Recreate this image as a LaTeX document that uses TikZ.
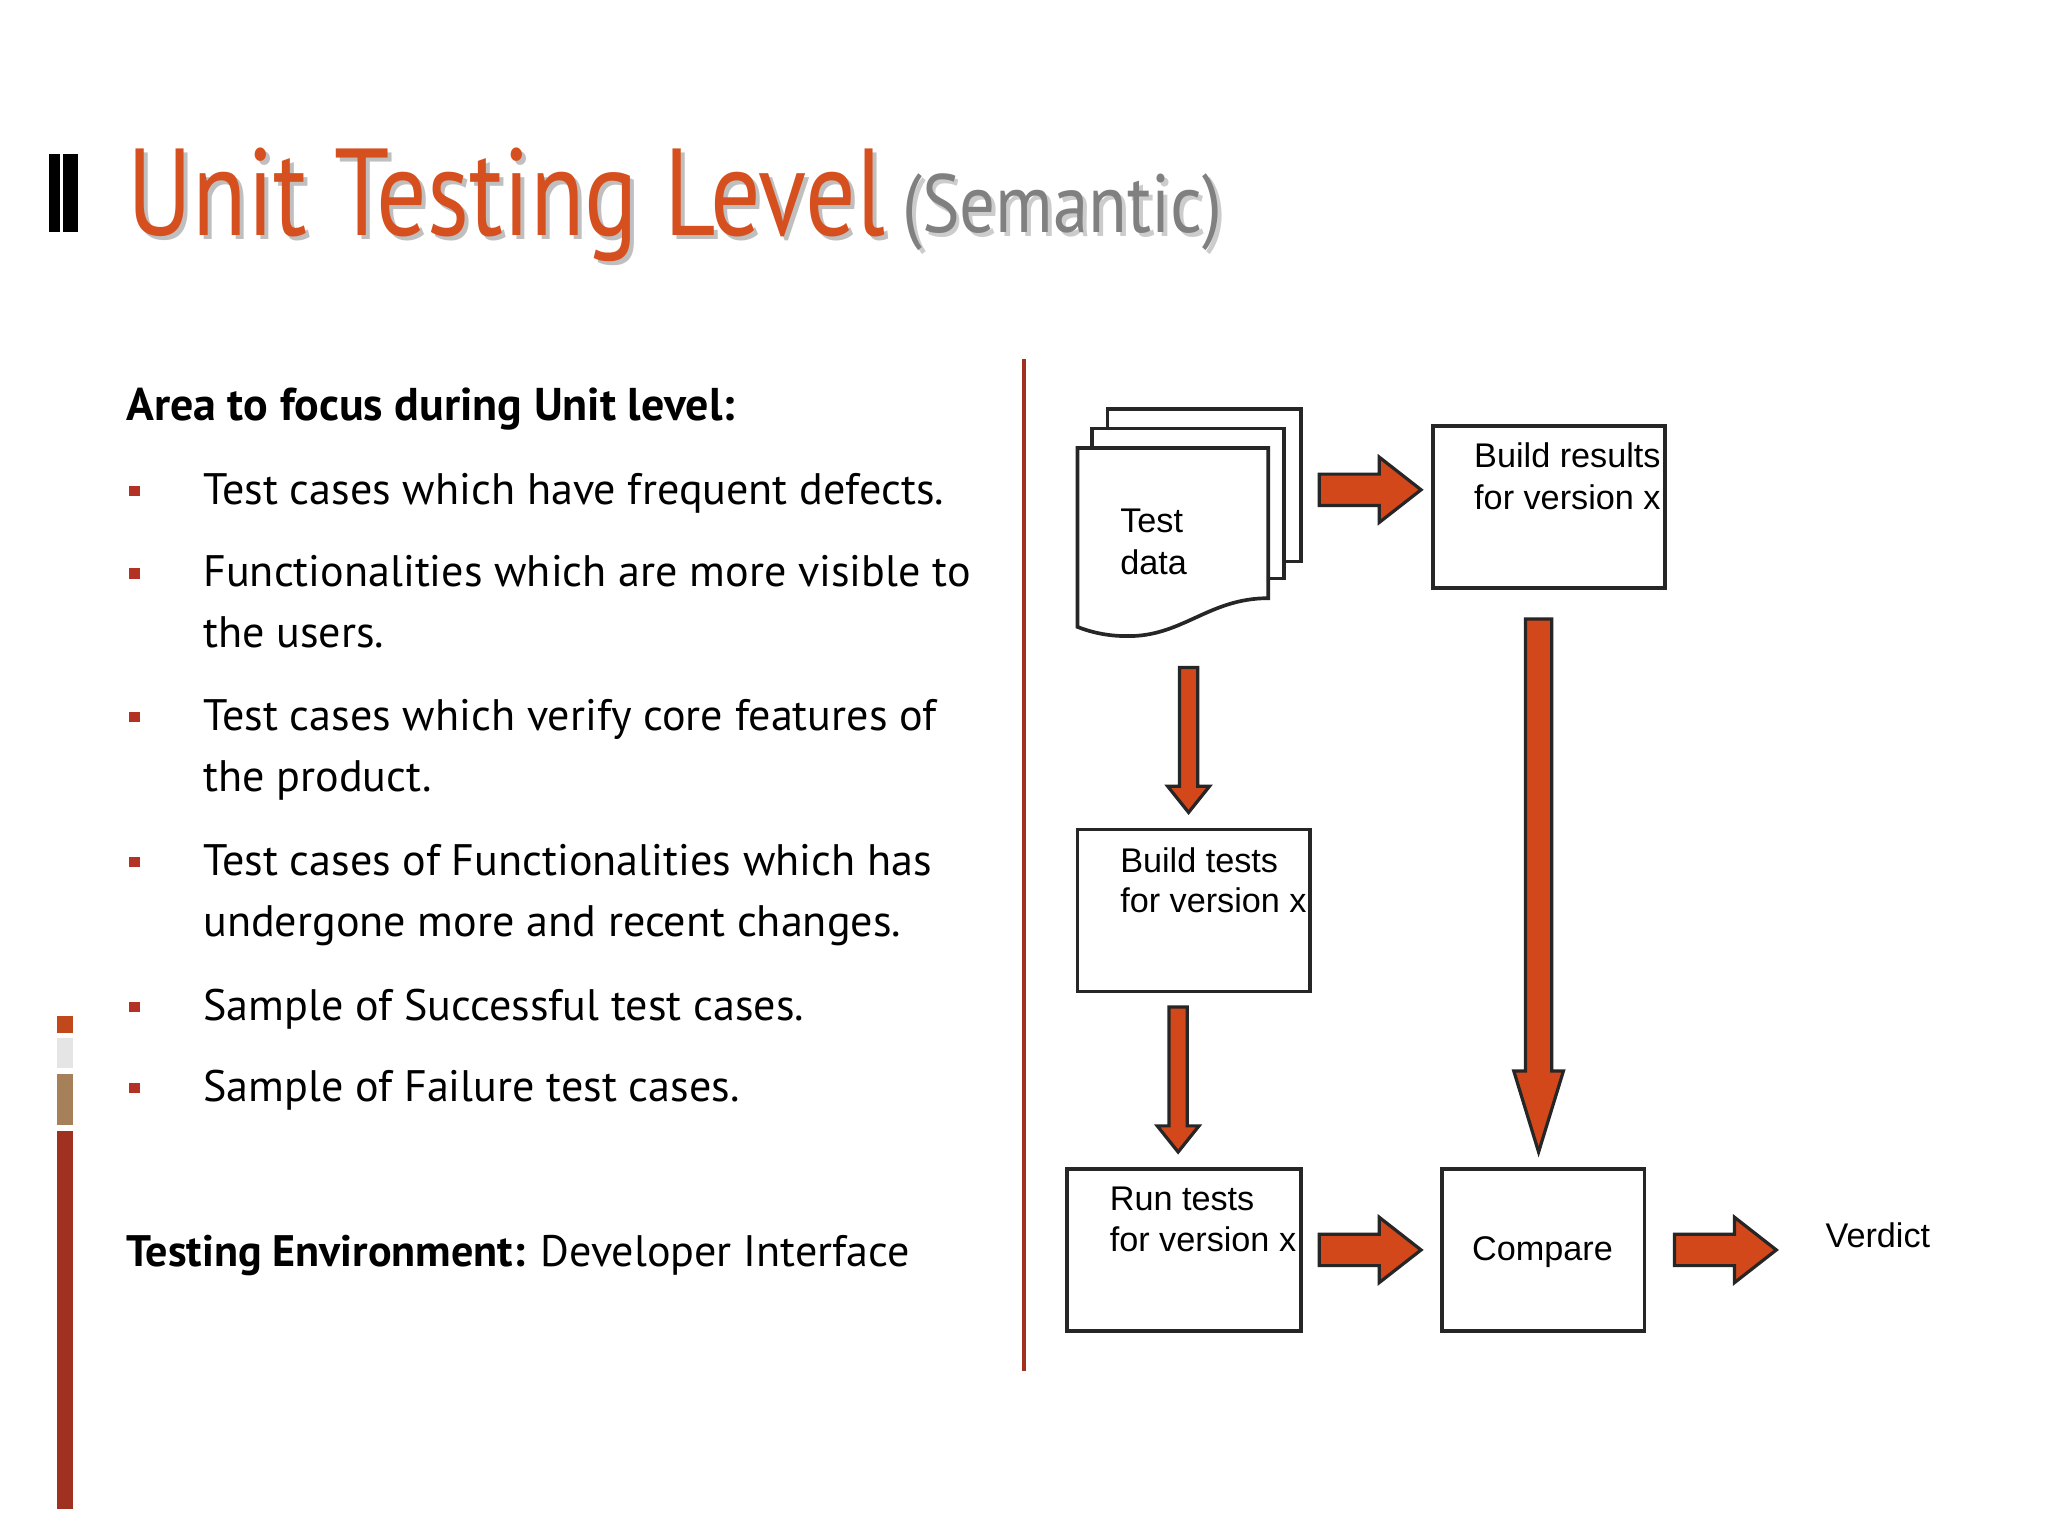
\documentclass[tikz,border=0pt]{standalone}
\usepackage{fontspec}
\setmainfont{PT Sans}
\newfontfamily\arialf{Liberation Sans}
\usepackage{graphicx}
\definecolor{tred}{RGB}{213,80,30}
\definecolor{arr}{RGB}{210,72,26}
\definecolor{dred}{RGB}{160,48,32}
\definecolor{bul}{RGB}{180,50,35}
\begin{document}
\begin{tikzpicture}[x=0.01cm,y=-0.01cm,
  box/.style={draw=black!85,line width=0.8pt,fill=white},
  fatarrow/.style={draw=black!85,line width=0.7pt,fill=arr},
  body/.style={anchor=base west,inner sep=0pt,font=\fontsize{9.6}{11}\selectfont},
  dtext/.style={anchor=base west,inner sep=0pt,font=\arialf\fontsize{7.45}{8.6}\selectfont},
  bsq/.style={fill=bul}]
\useasboundingbox (0,0) rectangle (1568,1176);
% top-left bars
\foreach \x in {38.5,40.5,42.5,45} \draw[line width=0.6pt] (\x,118) -- (\x,178);
\fill (48,118) rectangle (60,178);
% title
\node[anchor=base west,inner sep=0pt,text=black!25] (tsh) at (100,183) {\resizebox{5.8cm}{0.67cm}{Unit Testing Level}};
\node[anchor=base west,inner sep=0pt,text=tred] (title) at (97,180) {\resizebox{5.8cm}{0.67cm}{Unit Testing Level}};
\node[anchor=base west,inner sep=0pt,text=black!20] (ssh) at (693,181) {\resizebox{2.45cm}{0.45cm}{(Semantic)}};
\node[anchor=base west,inner sep=0pt,text=black!50] (sem) at (690,178) {\resizebox{2.45cm}{0.45cm}{(Semantic)}};
% left decoration
\fill[tred!90!black] (44,778) rectangle (56,791);
\fill[black!10] (44,795) rectangle (56,818);
\fill[brown!60!gray] (44,822) rectangle (56,861);
\fill[dred] (44,866) rectangle (56,1155);
% divider
\draw[dred,line width=0.8pt] (784,275) -- (784,1050);
% text
\node[body,font=\bfseries\fontsize{10}{11}\selectfont] (head) at (96,322) {Area to focus during Unit level:};
\foreach \y/\t [count=\i] in {386/{Test cases which have frequent defects.},449/{Functionalities which are more visible to},496/{the users.},559/{Test cases which verify core features of},606/{the product.},670/{Test cases of Functionalities which has},717/{undergone more and recent changes.},781/{Sample of Successful test cases.},843/{Sample of Failure test cases.}}
  \node[body] (l\i) at (155,\y) {\t};
\foreach \y in {386,449,559,670,781,843} \fill[bsq] (99,\y-14) rectangle (107,\y-6);
\node[body] (env) at (96,970) {\textbf{Testing Environment:} Developer Interface};
% diagram: document stack
\draw[box] (848,313) rectangle (996,430);
\draw[box] (836,328) rectangle (983,443);
\draw[box] (825,343) -- (971,343) -- (971,458) .. controls (925,458) and (905,488) .. (862,487) .. controls (848,487) and (835,484) .. (825,480) -- cycle;
\node[dtext] (td) at (857,408) {Test};
\node[dtext] (td2) at (857,440) {data};
% boxes
\draw[box] (1097,326) rectangle (1275,450);
\node[dtext,align=left] (br) at (1128,358) {Build results};
\node[dtext] (br2) at (1128,390) {for version x};
\draw[box] (825,635) rectangle (1003,759);
\node[dtext] (bt) at (857,668) {Build tests};
\node[dtext] (bt2) at (857,699) {for version x};
\draw[box] (817,895) rectangle (996,1019);
\node[dtext] (rt) at (849,927) {Run tests};
\node[dtext] (rt2) at (849,958) {for version x};
\draw[box] (1104,895) rectangle (1259,1019);
\node[dtext,anchor=base] (cmp) at (1181,965) {Compare};
\node[dtext] (ver) at (1397,955) {Verdict};
% arrows
\foreach \xa/\xb/\y in {1010/1088/375,1010/1088/957,1282/1360/957}
  \draw[fatarrow] (\xa,\y-12) -- (\xb-32,\y-12) -- (\xb-32,\y-25) -- (\xb,\y) -- (\xb-32,\y+25) -- (\xb-32,\y+12) -- (\xa,\y+12) -- cycle;
\foreach \x/\ya/\yb in {910/511/622,902/771/882}
  \draw[fatarrow] (\x-7,\ya) -- (\x+7,\ya) -- (\x+7,\yb-20) -- (\x+16,\yb-20) -- (\x,\yb) -- (\x-16,\yb-20) -- (\x-7,\yb-20) -- cycle;
\draw[fatarrow] (1168,474) -- (1188,474) -- (1188,820) -- (1197,820) -- (1178,882) -- (1159,820) -- (1168,820) -- cycle;
\end{tikzpicture}
\end{document}
